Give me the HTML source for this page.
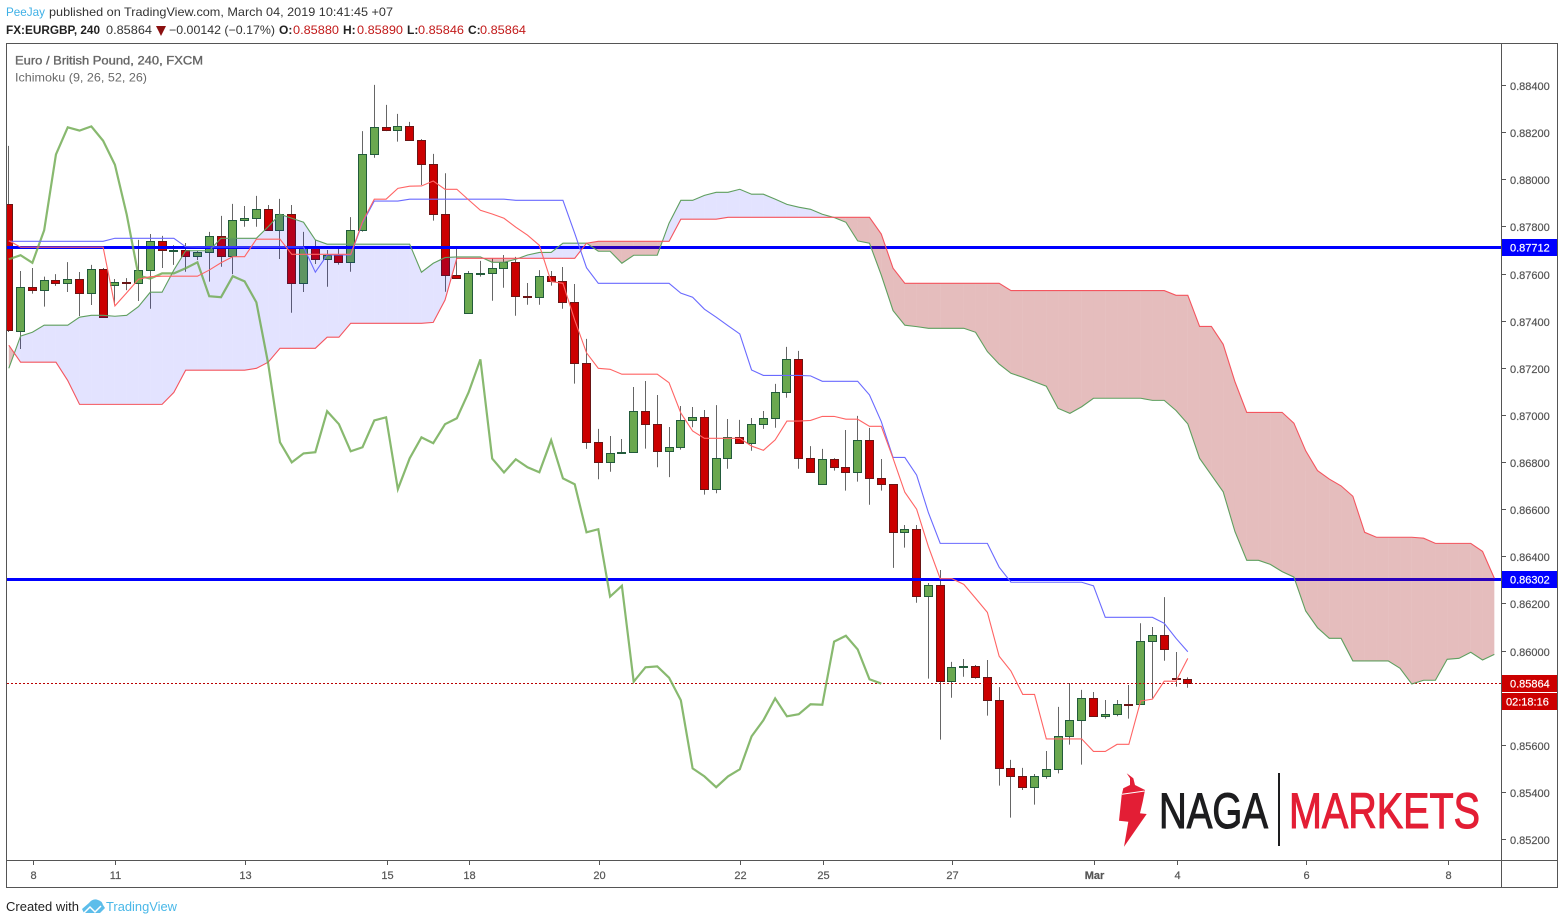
<!DOCTYPE html>
<html lang="en">
<head>
<meta charset="utf-8">
<title>EURGBP 240 Ichimoku chart</title>
<style>
html,body{margin:0;padding:0;background:#fff;}
body{width:1564px;height:924px;overflow:hidden;}
svg{display:block;font-family:"Liberation Sans",Arial,sans-serif;}
.ax{font-size:11px;fill:#555;stroke:#555;stroke-width:0.2px;}
</style>
</head>
<body>
<svg id="chart" xmlns="http://www.w3.org/2000/svg" width="1564" height="924" viewBox="0 0 1564 924">
  <rect x="0" y="0" width="1564" height="924" fill="#ffffff"/>
  <defs><clipPath id="plotClip"><rect x="7" y="44" width="1494" height="816"/></clipPath></defs>

  <g font-size="12">
    <text x="6" y="16" fill="#3fb0e6" textLength="39" lengthAdjust="spacingAndGlyphs">PeeJay</text>
    <text x="49" y="16" fill="#333" textLength="344" lengthAdjust="spacingAndGlyphs">published on TradingView.com, March 04, 2019 10:41:45 +07</text>
  </g>
  <g font-size="12">
    <text x="6" y="34" fill="#222" font-weight="bold" textLength="94" lengthAdjust="spacingAndGlyphs">FX:EURGBP, 240</text>
    <text x="106" y="34" fill="#333" textLength="46" lengthAdjust="spacingAndGlyphs">0.85864</text>
    <polygon points="156,26 166,26 161,36" fill="#8b1010"/>
    <text x="169" y="34" fill="#333" textLength="106" lengthAdjust="spacingAndGlyphs">−0.00142 (−0.17%)</text>
    <text x="279" y="34" fill="#222" font-weight="bold">O:</text>
    <text x="293" y="34" fill="#c21a1a" textLength="46" lengthAdjust="spacingAndGlyphs">0.85880</text>
    <text x="343" y="34" fill="#222" font-weight="bold">H:</text>
    <text x="357" y="34" fill="#c21a1a" textLength="46" lengthAdjust="spacingAndGlyphs">0.85890</text>
    <text x="407" y="34" fill="#222" font-weight="bold">L:</text>
    <text x="418" y="34" fill="#c21a1a" textLength="46" lengthAdjust="spacingAndGlyphs">0.85846</text>
    <text x="468" y="34" fill="#222" font-weight="bold">C:</text>
    <text x="480" y="34" fill="#c21a1a" textLength="46" lengthAdjust="spacingAndGlyphs">0.85864</text>
  </g>

  <g id="plot" clip-path="url(#plotClip)"></g>

  <g fill="none" stroke="#555" stroke-width="1">
    <rect x="6.5" y="43.5" width="1551" height="844"/>
    <line x1="1501.5" y1="44" x2="1501.5" y2="887"/>
    <line x1="7" y1="860.5" x2="1557" y2="860.5"/>
  </g>

  <text x="15" y="64.5" font-size="12" fill="#666" stroke="#666" stroke-width="0.35" textLength="188" lengthAdjust="spacingAndGlyphs">Euro / British Pound, 240, FXCM</text>
  <text x="15" y="81.5" font-size="12" fill="#6a6a6a" textLength="132" lengthAdjust="spacingAndGlyphs">Ichimoku (9, 26, 52, 26)</text>

  <g id="yaxis"></g>
  <g id="xaxis"></g>

  <g>
    <polygon fill="#e31e35" points="1126.7,773.3 1133.3,778.3 1135,785 1145,790 1142.7,801.7 1140,813.3 1146.7,814 1124,846.7 1128.3,821.7 1119,820.7 1121.7,795 1123.3,788.3 1130,785 1130,778.3"/>
    <line x1="1122" y1="794.3" x2="1144.7" y2="791" stroke="#fff" stroke-width="1"/>
    <text x="1159" y="828" font-size="50" fill="#1d1d1f" stroke="#1d1d1f" stroke-width="1.1" textLength="109" lengthAdjust="spacingAndGlyphs">NAGA</text>
    <rect x="1278" y="773" width="2" height="73" fill="#1d1d1f"/>
    <text x="1289" y="828" font-size="50" fill="#e31e35" stroke="#e31e35" stroke-width="1.1" textLength="191" lengthAdjust="spacingAndGlyphs">MARKETS</text>
  </g>

  <g>
    <text x="6" y="911" font-size="12.5" fill="#222" textLength="73" lengthAdjust="spacingAndGlyphs">Created with</text>
    <path d="M82,909 L89,903 Q93,898 98,900 Q102,901 103,905 L105,908 L100,913 L84,913 Z" fill="#5cbdea"/>
    <polyline points="84,913 90,907 95,912 101,906" fill="none" stroke="#fff" stroke-width="1.5"/>
    <text x="106" y="911" font-size="12.5" fill="#4ab8e8" textLength="71" lengthAdjust="spacingAndGlyphs">TradingView</text>
  </g>
</svg>

<script>
// All values are prices x 100000 (e.g. 85864 = 0.85864); one entry per bar.
const opens = [87900,87360,87546,87532,87576,87561,87580,87519,87622,87553,87567,87561,87616,87741,87701,87703,87676,87694,87762,87678,87830,87839,87877,87788,87856,87563,87717,87665,87682,87652,87788,88110,88225,88211,88229,88168,88066,87855,87597,87436,87602,87605,87627,87652,87508,87504,87593,87571,87482,87222,86888,86803,86841,86846,87020,86965,86850,86865,86981,86994,86689,86820,86909,86884,86965,86990,87100,87240,86819,86710,86816,86782,86761,86897,86735,86710,86506,86519,86233,86279,85872,85933,85937,85891,85793,85504,85470,85424,85470,85500,85640,85708,85801,85725,85734,85777,85776,86042,86067,85886,85880];
const highs = [88146,87615,87628,87591,87602,87653,87611,87641,87628,87581,87585,87747,87772,87764,87725,87734,87701,87781,87849,87900,87891,87934,87895,87921,87895,87781,87747,87704,87713,87844,88209,88405,88320,88282,88248,88175,88112,88030,87709,87615,87658,87670,87683,87675,87564,87619,87615,87632,87560,87327,86945,86915,86902,87123,87148,87089,86953,87042,87038,87025,87046,86987,86983,86991,87021,87136,87293,87276,86872,86860,86821,86940,87000,86949,86817,86710,86537,86537,86291,86346,85956,85968,85943,85964,85849,85540,85506,85480,85578,85765,85866,85837,85828,85794,85794,85858,86120,86104,86231,85998,85890];
const lows = [87356,87284,87519,87464,87552,87526,87424,87471,87416,87471,87534,87488,87455,87628,87641,87612,87662,87570,87633,87602,87803,87803,87785,87666,87438,87526,87645,87548,87642,87612,87782,88096,88209,88164,88168,87980,87829,87527,87581,87436,87591,87489,87544,87425,87472,87472,87553,87455,87137,86860,86731,86763,86841,86846,86861,86782,86740,86857,86952,86666,86672,86776,86884,86852,86945,86950,87077,86776,86760,86710,86768,86683,86721,86623,86683,86355,86441,86207,85885,85626,85804,85893,85885,85728,85431,85295,85412,85350,85460,85483,85605,85520,85725,85715,85725,85715,85776,85801,85961,85851,85846];
const closes = [87362,87547,87532,87576,87561,87580,87519,87622,87417,87567,87563,87618,87741,87703,87703,87676,87694,87762,87676,87830,87839,87877,87788,87856,87563,87714,87665,87682,87650,87788,88110,88225,88211,88229,88168,88066,87855,87595,87583,87605,87605,87627,87652,87508,87504,87593,87571,87482,87222,86888,86803,86841,86846,87020,86965,86850,86867,86981,86994,86689,86820,86909,86884,86965,86990,87100,87240,86819,86760,86816,86782,86761,86897,86735,86710,86506,86519,86233,86279,85872,85933,85937,85889,85793,85504,85470,85424,85470,85500,85640,85708,85801,85725,85734,85776,85774,86042,86067,86009,85882,85864];

const tenkan = [87744,87716,87716,87716,87716,87716,87716,87716,87716,87467,87523,87580,87591,87593,87593,87593,87593,87619,87650,87676,87676,87750,87750,87750,87686,87686,87686,87686,87686,87686,87824,87920,87920,87966,87975,87976,87997,87962,87962,87917,87873,87857,87839,87801,87767,87724,87570,87563,87407,87268,87202,87198,87177,87177,87177,87177,87141,87012,86936,86905,86905,86905,86905,86872,86854,86898,86978,86978,86981,86998,86998,86986,86986,86956,86956,86820,86676,86604,86445,86309,86309,86285,86226,86166,85980,85917,85818,85818,85629,85629,85629,85629,85576,85576,85606,85606,85790,85798,85874,85874,85971];
const kijun = [87741,87741,87741,87741,87741,87741,87741,87741,87741,87754,87754,87754,87754,87754,87754,87718,87717,87717,87717,87717,87717,87717,87717,87717,87717,87717,87610,87683,87683,87683,87819,87912,87912,87912,87920,87920,87920,87920,87920,87920,87920,87920,87920,87915,87915,87915,87915,87915,87775,87629,87563,87563,87563,87563,87563,87563,87563,87521,87504,87453,87419,87383,87348,87195,87172,87172,87172,87172,87170,87147,87147,87147,87147,87089,86976,86824,86824,86749,86589,86459,86459,86459,86459,86459,86358,86294,86294,86294,86294,86294,86294,86294,86279,86145,86145,86145,86145,86145,86120,86056,85999];
const chikou = [87665,87682,87650,87788,88110,88225,88211,88229,88168,88066,87855,87595,87583,87605,87605,87627,87652,87508,87504,87593,87571,87482,87222,86888,86803,86841,86846,87020,86965,86850,86867,86981,86994,86689,86820,86909,86884,86965,86990,87100,87240,86819,86760,86816,86782,86761,86897,86735,86710,86506,86519,86233,86279,85872,85933,85937,85889,85793,85504,85470,85424,85470,85500,85640,85708,85801,85725,85734,85776,85774,86042,86067,86009,85882,85864];
const spanA = [87202,87339,87355,87385,87385,87385,87419,87427,87427,87423,87427,87464,87525,87525,87619,87701,87701,87701,87754,87754,87754,87754,87803,87856,87839,87822,87747,87729,87729,87729,87729,87729,87729,87729,87729,87610,87648,87672,87675,87675,87675,87652,87652,87665,87683,87694,87694,87733,87733,87733,87699,87699,87648,87682,87682,87682,87818,87915,87915,87936,87949,87949,87962,87941,87941,87920,87898,87886,87877,87856,87842,87822,87743,87733,87598,87447,87385,87379,87372,87372,87372,87372,87355,87273,87220,87181,87164,87145,87126,87032,87011,87039,87075,87075,87075,87075,87075,87066,87066,87023,86966,86820,86749,86678,86509,86387,86387,86370,86339,86316,86172,86101,86056,86056,85960,85960,85960,85960,85929,85862,85878,85878,85967,85971,85997,85964,85988];
const spanB = [87300,87228,87228,87228,87228,87150,87049,87049,87049,87049,87049,87049,87049,87049,87100,87194,87194,87194,87194,87194,87194,87202,87228,87287,87287,87287,87287,87334,87334,87393,87393,87393,87393,87393,87393,87393,87397,87492,87669,87669,87669,87669,87669,87669,87669,87669,87669,87669,87669,87733,87741,87741,87741,87741,87741,87741,87741,87835,87835,87835,87835,87843,87843,87843,87843,87843,87843,87843,87843,87843,87843,87843,87843,87843,87772,87627,87563,87563,87563,87563,87563,87563,87563,87563,87563,87532,87532,87532,87532,87532,87532,87532,87532,87532,87532,87532,87532,87532,87532,87512,87512,87380,87380,87304,87145,87015,87015,87015,87015,86969,86852,86768,86732,86703,86659,86506,86485,86485,86485,86485,86481,86459,86459,86459,86459,86425,86311];

const hlineValues = [87712, 86302];
const hlineLabels = ['0.87712', '0.86302'];
const lastPrice = 85864;
const lastPriceLabel = '0.85864';
const countdownLabel = '02:18:16';

const priceTicks = [88400,88200,88000,87800,87600,87400,87200,87000,86800,86600,86400,86200,86000,85600,85400,85200];
const priceTickLabels = ['0.88400','0.88200','0.88000','0.87800','0.87600','0.87400','0.87200','0.87000','0.86800','0.86600','0.86400','0.86200','0.86000','0.85600','0.85400','0.85200'];
const dateTickBars = [2,9,20,32,39,50,62,69,80,92,99,110,122];
const dateTickLabels = ['8','11','13','15','18','20','22','25','27','Mar','4','6','8'];

const NS = 'http://www.w3.org/2000/svg';
const plot = document.getElementById('plot');
const yaxis = document.getElementById('yaxis');
const xaxis = document.getElementById('xaxis');

function xOf(i){ return 8.8 + 11.79 * i; }
function yOf(p){ return 840 - (p - 85200) * 0.2356; }

function make(tag, attrs, parent){
  const el = document.createElementNS(NS, tag);
  for (const k in attrs) el.setAttribute(k, attrs[k]);
  parent.appendChild(el);
  return el;
}
function snap(v){ return Math.round(v) + 0.5; }

// candles
closes.forEach(function(c, i){
  const o = opens[i], up = c >= o;
  const px = Math.floor(xOf(i)) + 0.5;
  const wick = make('line', {x1:px, x2:px, y1:yOf(highs[i]), y2:yOf(lows[i]), stroke:'#666', 'stroke-width':1}, plot);
  
  
  const top = snap(yOf(Math.max(o, c)) - 0.3);
  const bot = snap(yOf(Math.min(o, c)) - 0.3);
  const body = make('rect', {x:px - 4, y:top, width:8, height:Math.max(bot - top, 1),
    fill: up ? '#6aa84f' : '#cc0000', stroke: up ? '#225b3b' : '#6a1515', 'stroke-width':1}, plot);
  
  
});

// horizontal support / resistance lines
hlineValues.forEach(function(v){
  const yy = Math.round(yOf(v)) - 0.5;
  const ln = make('line', {x1:7, x2:1501, y1:yy, y2:yy, stroke:'#0000ff', 'stroke-width':3}, plot);
  
  
});

// cloud
function cloudPiece(pts, positive){
  const poly = make('polygon', {points: pts.map(function(p){ return p[0].toFixed(2) + ',' + p[1].toFixed(2); }).join(' '),
    fill: positive ? 'rgba(0,0,255,0.11)' : 'rgba(153,0,0,0.26)'}, plot);
  
  
}
for (let i = 0; i < spanA.length - 1; i++){
  const a0 = spanA[i], b0 = spanB[i], a1 = spanA[i + 1], b1 = spanB[i + 1];
  const d0 = a0 - b0, d1 = a1 - b1;
  const x0 = xOf(i), x1 = xOf(i + 1);
  if (d0 * d1 < 0){
    const t = d0 / (d0 - d1);
    const xc = x0 + (x1 - x0) * t;
    const yc = yOf(a0 + (a1 - a0) * t);
    cloudPiece([[x0, yOf(a0)], [xc, yc], [x0, yOf(b0)]], d0 > 0);
    cloudPiece([[xc, yc], [x1, yOf(a1)], [x1, yOf(b1)]], d1 > 0);
  } else {
    cloudPiece([[x0, yOf(a0)], [x1, yOf(a1)], [x1, yOf(b1)], [x0, yOf(b0)]], (d0 + d1) >= 0);
  }
}

// last price dashed line
const lastY = Math.round(yOf(lastPrice)) + 0.5 - 1;
const lastLine = make('line', {x1:7, x2:1501, y1:lastY, y2:lastY, stroke:'#bb0000', 'stroke-width':1, 'stroke-dasharray':'2 2'}, plot);



// ichimoku lines
function pathOf(values){
  return values.map(function(v, i){ return xOf(i).toFixed(2) + ',' + yOf(v).toFixed(2); }).join(' ');
}
const spanALine = make('polyline', {points:pathOf(spanA), fill:'none', stroke:'#5f9f5f', 'stroke-width':1.1}, plot);


const spanBLine = make('polyline', {points:pathOf(spanB), fill:'none', stroke:'#f4555f', 'stroke-width':1.1}, plot);


const chikouLine = make('polyline', {points:pathOf(chikou), fill:'none', stroke:'#6eaa4f', 'stroke-opacity':0.82, 'stroke-width':2.2}, plot);


const kijunLine = make('polyline', {points:pathOf(kijun), fill:'none', stroke:'#6a6aff', 'stroke-width':1.1}, plot);


const tenkanLine = make('polyline', {points:pathOf(tenkan), fill:'none', stroke:'#ff6464', 'stroke-width':1.1}, plot);



// price axis
priceTicks.forEach(function(p, i){
  const yy = Math.round(yOf(p)) + 0.5 - 1;
  const tick = make('line', {x1:1502, x2:1506, y1:yy, y2:yy, stroke:'#555', 'stroke-width':1}, yaxis);
  
  
  const lbl = make('text', {x:1510, y:yy + 4.5, 'class':'ax'}, yaxis);
  
  
  lbl.textContent = priceTickLabels[i];
});

// price badges
hlineValues.forEach(function(v, i){
  const yy = Math.round(yOf(v)) - 0.5;
  const box = make('rect', {x:1502, y:yy - 8.5, width:55, height:17, fill:'#0000ff'}, yaxis);
  
  
  const t = make('text', {x:1510, y:yy + 4, 'font-size':11, fill:'#fff', stroke:'#fff', 'stroke-width':0.2}, yaxis);
  
  
  t.textContent = hlineLabels[i];
});
const lastBox = make('rect', {x:1502, y:lastY - 8.5, width:55, height:17, fill:'#cc0000'}, yaxis);


const lastText = make('text', {x:1510, y:lastY + 4, 'font-size':11, fill:'#fff', stroke:'#fff', 'stroke-width':0.2}, yaxis);


lastText.textContent = lastPriceLabel;
const cdBox = make('rect', {x:1502, y:lastY + 9.5, width:55, height:17, fill:'#cc0000'}, yaxis);


const cdText = make('text', {x:1506, y:lastY + 22, 'font-size':11, fill:'#fff', stroke:'#fff', 'stroke-width':0.2}, yaxis);


cdText.textContent = countdownLabel;

// time axis
dateTickBars.forEach(function(b, i){
  const xx = Math.floor(xOf(b)) + 1.5;
  const tick = make('line', {x1:xx, x2:xx, y1:861, y2:865, stroke:'#555', 'stroke-width':1}, xaxis);
  
  
  const lbl = make('text', {x:xx, y:879, 'text-anchor':'middle', 'class':'ax'}, xaxis);
  
  
  if (dateTickLabels[i] === 'Mar') lbl.setAttribute('font-weight', 'bold');
  lbl.textContent = dateTickLabels[i];
});
</script>
</body>
</html>
